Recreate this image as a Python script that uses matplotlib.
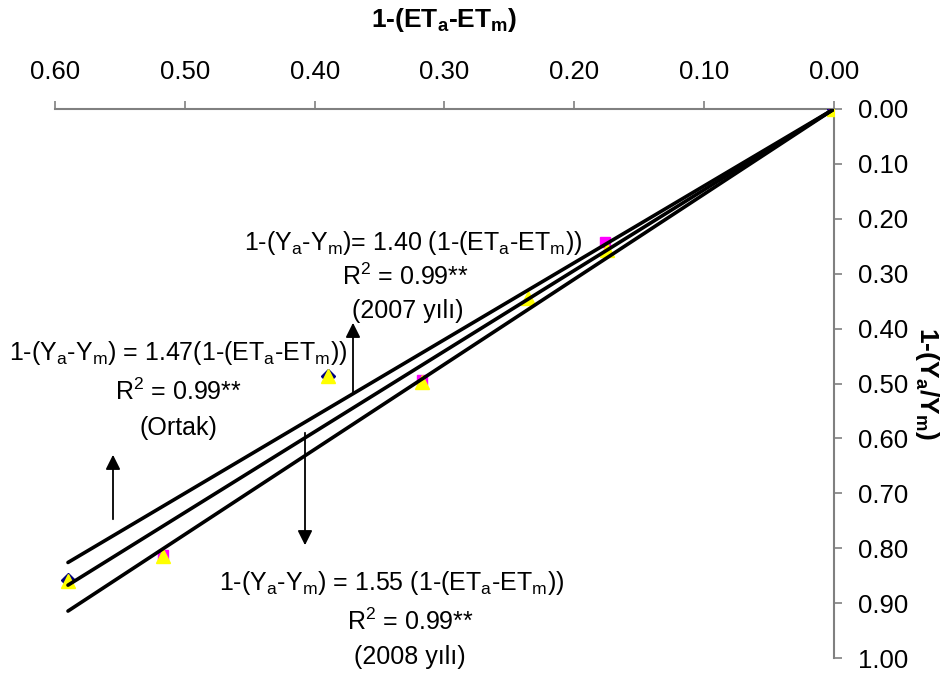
import numpy as np
import matplotlib.pyplot as plt

plt.rcParams['font.family'] = ['Liberation Sans', 'DejaVu Sans']
plt.rcParams['mathtext.default'] = 'regular'

# marker series (x = 1-(ETa-ETm), y = 1-(Ya/Ym))
diamond_x = [0.0, 0.390, 0.590]
diamond_y = [0.0, 0.486, 0.858]
square_x = [0.0, 0.176, 0.317, 0.517]
square_y = [0.0, 0.242, 0.494, 0.812]
triangle_x = [0.0, 0.175, 0.236, 0.390, 0.317, 0.517, 0.590]
triangle_y = [0.0, 0.257, 0.345, 0.487, 0.497, 0.815, 0.860]

slopes = [1.40, 1.47, 1.55]
ticks = [0.0, 0.1, 0.2, 0.3, 0.4, 0.5, 0.6]

W, H = 952, 679
fig = plt.figure(figsize=(W / 100, H / 100), dpi=100)
ax = fig.add_axes([55 / W, 1 - 658 / H, (834 - 55) / W, (658 - 109) / H])

ax.plot(diamond_x, diamond_y, ls='none', marker='D', ms=7.5, mfc='#000080', mec='#000080', zorder=3)
ax.plot(square_x, square_y, ls='none', marker='s', ms=7.5, mfc='#FF00FF', mec='#FF00FF', zorder=4)
ax.plot(triangle_x, triangle_y, ls='none', marker='^', ms=10, mfc='#FFFF00', mec='#FFFF00', zorder=5)

xmax = max(triangle_x)
for s in slopes:
    xs = np.array([0.0, xmax])
    ax.plot(xs, s * xs, color='black', lw=2.6, solid_capstyle='round', zorder=6)

ax.set_xlim(0.6, 0.0)
ax.set_ylim(1.0, 0.0)
ax.set_xticks(ticks)
ax.set_yticks(np.arange(0, 1.01, 0.1))
ax.xaxis.set_major_formatter(plt.FormatStrFormatter('%.2f'))
ax.yaxis.set_major_formatter(plt.FormatStrFormatter('%.2f'))
ax.xaxis.tick_top()
ax.yaxis.tick_right()
ax.xaxis.set_label_position('top')
ax.yaxis.set_label_position('right')
for side in ['left', 'bottom']:
    ax.spines[side].set_visible(False)
for side in ['top', 'right']:
    ax.spines[side].set_color('#808080')
    ax.spines[side].set_linewidth(1.5)
ax.tick_params(axis='both', direction='out', length=6, width=1.2, color='#808080',
               labelsize=18.5, pad=12)
ax.tick_params(axis='y', pad=11)

ax.set_xlabel('1-(ET$_a$-ET$_m$)', fontsize=19, fontweight='bold', labelpad=24)
ax.set_ylabel('1-(Y$_a$/Y$_m$)', fontsize=19, fontweight='bold', rotation=270,
              labelpad=24)


def ftext(x, y, s):
    fig.text(x / W, 1 - y / H, s, ha='center', va='center', fontsize=18)


ftext(413, 243, '1-(Y$_a$-Y$_m$)= 1.40 (1-(ET$_a$-ET$_m$))')
ftext(405, 277, 'R$^2$ = 0.99**')
ftext(408, 311, '(2007 yılı)')
ftext(178, 353, '1-(Y$_a$-Y$_m$) = 1.47(1-(ET$_a$-ET$_m$))')
ftext(178, 392, 'R$^2$ = 0.99**')
ftext(178, 428, '(Ortak)')
ftext(392, 583, '1-(Y$_a$-Y$_m$) = 1.55 (1-(ET$_a$-ET$_m$))')
ftext(410, 622, 'R$^2$ = 0.99**')
ftext(410, 657, '(2008 yılı)')


def arrow(x, y0, y1):
    fig.add_artist(plt.matplotlib.patches.FancyArrowPatch(
        (x / W, 1 - y0 / H), (x / W, 1 - y1 / H), transform=fig.transFigure,
        arrowstyle='-|>', mutation_scale=22, color='black', lw=1.3))


arrow(353, 395, 320)
arrow(113, 522, 452)
arrow(305, 430, 548)

fig.savefig('out.png', dpi=100)
